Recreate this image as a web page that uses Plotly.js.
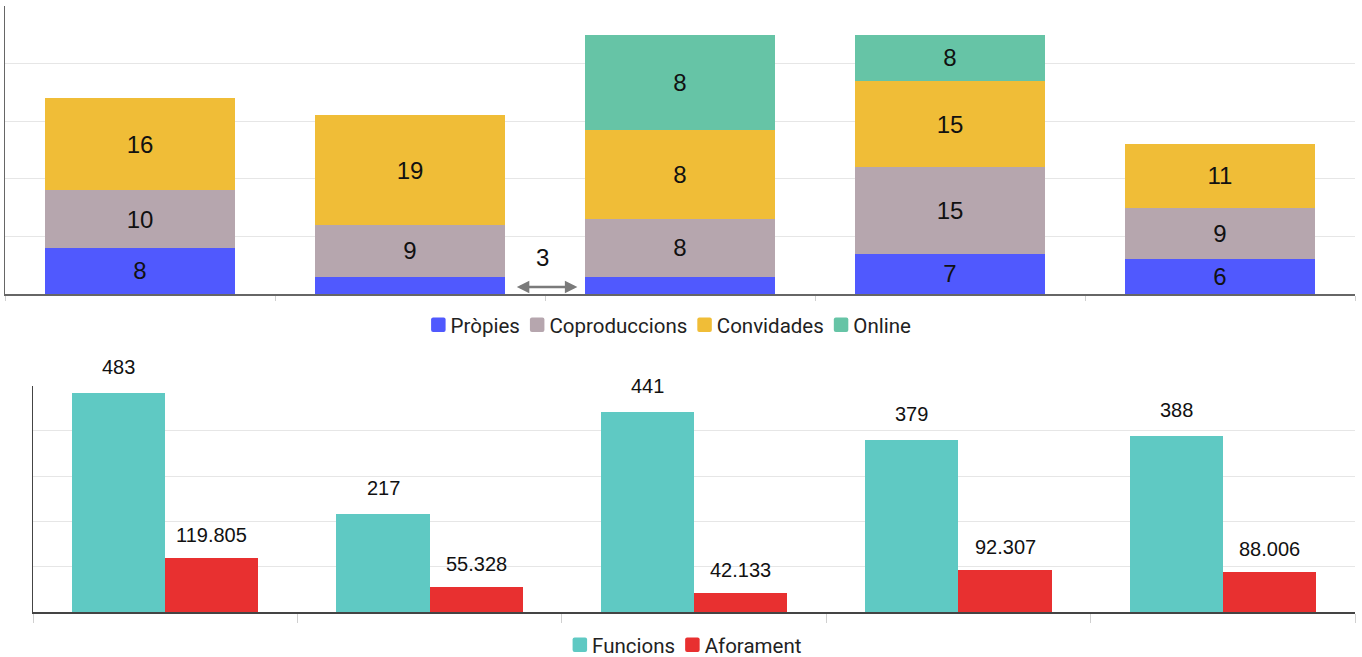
<!DOCTYPE html>
<html>
<head>
<meta charset="utf-8">
<script src="https://cdn.plot.ly/plotly-3.0.1.min.js"></script>
<style>html,body{margin:0;padding:0;background:#fff;}#chart{width:1362px;height:657px;}</style>
</head>
<body>
<div id="chart"></div>
<script>
// ---- Top chart data (stacked) ----
const categories = ["1", "2", "3", "4", "5"];
const propies = [8, 3, 3, 7, 6];
const propiesText = ["8", "", "", "7", "6"];
const coproduccions = [10, 9, 10, 15, 9];
const coproduccionsText = ["10", "9", "8", "15", "9"];
const convidades = [16, 19, 15.5, 15, 11];
const convidadesText = ["16", "19", "8", "15", "11"];
const online = [0, 0, 16.5, 8, 0];
const onlineText = ["", "", "8", "8", ""];
const sideLabel = "3";

// ---- Bottom chart data (grouped) ----
const funcions = [483, 217, 441, 379, 388];
const aforament = [119.805, 55.328, 42.133, 92.307, 88.006];
const aforamentText = ["119.805", "55.328", "42.133", "92.307", "88.006"];

const numFont = "Liberation Sans, Arial, sans-serif";
const labelFont = {family: numFont, size: 24, color: "#111"};

function stackTrace(name, vals, txt, color) {
  return {
    type: "bar", name: name, x: categories, y: vals, text: txt,
    textposition: "inside", insidetextanchor: "middle", textangle: 0,
    constraintext: "none", textfont: labelFont,
    marker: {color: color, line: {width: 0}},
    xaxis: "x", yaxis: "y", legend: "legend", hoverinfo: "skip"
  };
}

const W = 1362, H = 657;
const gap = 0.295;
const half = (1 - gap) / 4;

const traces = [
  stackTrace("Pròpies", propies, propiesText, "#5059FE"),
  stackTrace("Coproduccions", coproduccions, coproduccionsText, "#B6A6AE"),
  stackTrace("Convidades", convidades, convidadesText, "#F0BD37"),
  stackTrace("Online", online, onlineText, "#66C4A6"),
  {type: "bar", name: "Funcions", x: categories, y: funcions, marker: {color: "#5FC9C3"},
   xaxis: "x2", yaxis: "y2", legend: "legend2", hoverinfo: "skip", textposition: "none",
   offsetgroup: "f", width: 2 * half, offset: -2 * half},
  {type: "bar", name: "Aforament", x: categories, y: aforament, marker: {color: "#E83030"},
   xaxis: "x2", yaxis: "y2", legend: "legend2", hoverinfo: "skip", textposition: "none",
   offsetgroup: "a", width: 2 * half, offset: 0}
];

const annotations = [];
funcions.forEach((v, i) => annotations.push({
  xref: "x2", yref: "y2", x: i - half, y: v, text: String(v), showarrow: false,
  yanchor: "bottom", yshift: 13, font: {family: numFont, size: 20, color: "#111"}
}));
aforament.forEach((v, i) => annotations.push({
  xref: "x2", yref: "y2", x: i + half, y: v, text: aforamentText[i], showarrow: false,
  yanchor: "bottom", yshift: 10, font: {family: numFont, size: 20, color: "#111"}
}));
annotations.push({xref: "x", yref: "y", x: 1.49, y: 6.3, text: sideLabel, showarrow: false,
  font: labelFont});
annotations.push({xref: "x", yref: "y", axref: "x", ayref: "y", x: 1.62, y: 1.2, ax: 1.39, ay: 1.2,
  text: "", showarrow: true, arrowside: "end+start", arrowhead: 2, startarrowhead: 2,
  arrowsize: 1, startarrowsize: 1, arrowwidth: 2.5, arrowcolor: "#7a7a7a", standoff: 0, startstandoff: 0});

const legendFont = {family: "Roboto, sans-serif", size: 20.5, color: "#222"};

const layout = {
  width: W, height: H,
  margin: {l: 0, r: 0, t: 0, b: 0, autoexpand: false},
  paper_bgcolor: "#fff", plot_bgcolor: "#fff",
  barmode: "stack", bargap: gap,
  font: {family: "Roboto, sans-serif", color: "#222"},
  xaxis: {domain: [5 / W, 1355 / W], type: "category", showticklabels: false, showgrid: false,
    ticks: "outside", tickson: "boundaries", ticklen: 5, tickcolor: "#d0d0d0",
    showline: true, linecolor: "#666", linewidth: 1.5, zeroline: false, fixedrange: true},
  yaxis: {domain: [1 - 294 / H, 1 - 6 / H], range: [0, 50], dtick: 10, showticklabels: false,
    gridcolor: "#e6e6e6", gridwidth: 1, showline: true, linecolor: "#666", linewidth: 1.5,
    zeroline: false, ticks: "", fixedrange: true},
  xaxis2: {domain: [33 / W, 1355 / W], anchor: "y2", type: "category", showticklabels: false, showgrid: false,
    ticks: "outside", tickson: "boundaries", ticklen: 9, tickcolor: "#d0d0d0",
    showline: true, linecolor: "#444", linewidth: 1.5, zeroline: false, fixedrange: true},
  yaxis2: {domain: [1 - 612 / H, 1 - 385.7 / H], anchor: "x2", range: [0, 500], dtick: 100, showticklabels: false,
    gridcolor: "#e6e6e6", gridwidth: 1, showline: true, linecolor: "#444", linewidth: 1.5,
    zeroline: false, ticks: "", fixedrange: true},
  legend: {orientation: "h", traceorder: "normal", x: 0.493, xanchor: "center", y: 1 - 325 / H, yanchor: "middle",
    font: legendFont, bgcolor: "rgba(0,0,0,0)"},
  legend2: {orientation: "h", traceorder: "normal", x: 0.506, xanchor: "center", y: 1 - 645 / H, yanchor: "middle",
    font: legendFont, bgcolor: "rgba(0,0,0,0)"},
  annotations: annotations,
  showlegend: true
};

// Make legend entries compact (square swatch right next to its label), centred on a given x.
function compactLegend(lg, centerX) {
  const items = Array.from(lg.querySelectorAll("g.traces")).filter(it => it.querySelector("text"));
  if (!items.length) return;
  const parseTx = el => {
    const m = /translate\(\s*([-\d.eE]+)[ ,]+([-\d.eE]+)\s*\)/.exec(el.getAttribute("transform") || "");
    return m ? [parseFloat(m[1]), parseFloat(m[2])] : [0, 0];
  };
  const firstText = items[0].querySelector("text");
  const t0 = parseTx(items[0]);
  const offset = firstText.getBoundingClientRect().left - t0[0] - parseFloat(firstText.getAttribute("x") || 40);
  const sw = 14.5, tgap = 5, igap = 10, r = 2, h = sw / 2;
  const sq = "M" + (h - r) + "," + (-h) + "Q" + h + "," + (-h) + " " + h + "," + (-h + r) +
    "V" + (h - r) + "Q" + h + "," + h + " " + (h - r) + "," + h +
    "H" + (-h + r) + "Q" + (-h) + "," + h + " " + (-h) + "," + (h - r) +
    "V" + (-h + r) + "Q" + (-h) + "," + (-h) + " " + (-h + r) + "," + (-h) + "Z";
  const widths = items.map(it => it.querySelector("text").getComputedTextLength());
  const total = widths.reduce((a, b) => a + b, 0) + items.length * (sw + tgap) + (items.length - 1) * igap;
  let x = centerX - total / 2;
  items.forEach((it, i) => {
    const ty = parseTx(it)[1];
    it.setAttribute("transform", "translate(" + (x - offset) + "," + ty + ")");
    it.querySelectorAll(".legendpoints path").forEach(p => {
      p.setAttribute("d", sq);
      p.setAttribute("transform", "translate(" + h + ",0)");
    });
    const tx = it.querySelector("text");
    tx.setAttribute("x", sw + tgap);
    tx.querySelectorAll("tspan[x]").forEach(s => s.setAttribute("x", sw + tgap));
    x += sw + tgap + widths[i] + igap;
  });
}

Plotly.newPlot("chart", traces, layout, {displayModeBar: false, staticPlot: true}).then(() => {
  const legends = Array.from(document.querySelectorAll(".infolayer > g")).filter(g =>
    /(^|\s)legend\d*(\s|$)/.test(g.getAttribute("class") || ""));
  legends.forEach(lg => {
    const cls = lg.getAttribute("class");
    compactLegend(lg, /legend2/.test(cls) ? 687 : 671);
  });
});
</script>
</body>
</html>
